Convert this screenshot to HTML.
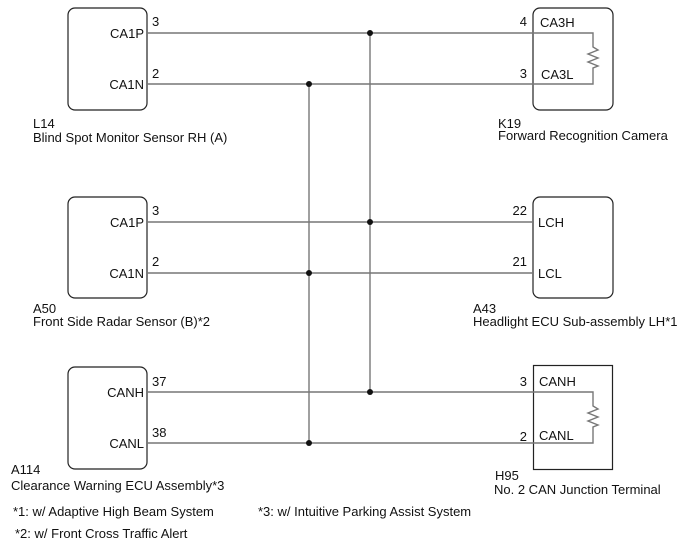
<!DOCTYPE html>
<html><head><meta charset="utf-8"><style>
html,body{margin:0;padding:0;background:#fff;}
svg{display:block;}
text{font-family:"Liberation Sans",Arial,sans-serif;font-size:13px;fill:#111;}
</style></head><body>
<svg width="688" height="560" viewBox="0 0 688 560" xmlns="http://www.w3.org/2000/svg">
<g fill="none" stroke="#222" stroke-width="1.2">
<rect x="68" y="8" width="79" height="102" rx="7"/>
<rect x="533" y="8" width="80" height="102" rx="7"/>
<rect x="68" y="197" width="79" height="101" rx="7"/>
<rect x="533" y="197" width="80" height="101" rx="7"/>
<rect x="68" y="367" width="79" height="102" rx="7"/>
<rect x="533.5" y="365.5" width="79" height="104"/>
</g>
<g fill="none" stroke="#777" stroke-width="1.4">
<line x1="147" y1="33" x2="533" y2="33"/>
<line x1="147" y1="84" x2="533" y2="84"/>
<line x1="147" y1="222" x2="533" y2="222"/>
<line x1="147" y1="273" x2="533" y2="273"/>
<line x1="147" y1="392" x2="533" y2="392"/>
<line x1="147" y1="443" x2="533" y2="443"/>
<line x1="370" y1="33" x2="370" y2="392"/>
<line x1="309" y1="84" x2="309" y2="443"/>
<polyline points="533,33 593,33 593,47 598,50 588,54 598,58 588,62 598,66 593,68 593,84 533,84"/>
<polyline points="533,392 593,392 593,406 598,409 588,413 598,417 588,421 598,425 593,427 593,443 533,443"/>
</g>
<g fill="#111">
<circle cx="370" cy="33" r="3"/><circle cx="309" cy="84" r="3"/>
<circle cx="370" cy="222" r="3"/><circle cx="309" cy="273" r="3"/>
<circle cx="370" cy="392" r="3"/><circle cx="309" cy="443" r="3"/>
</g>
<text x="152" y="26">3</text><text x="144" y="38" text-anchor="end">CA1P</text>
<text x="152" y="78">2</text><text x="144" y="89" text-anchor="end">CA1N</text>
<text x="33" y="128">L14</text><text x="33" y="142">Blind Spot Monitor Sensor RH (A)</text>
<text x="527" y="26" text-anchor="end">4</text><text x="540" y="27">CA3H</text>
<text x="527" y="78" text-anchor="end">3</text><text x="541" y="79">CA3L</text>
<text x="498" y="128">K19</text><text x="498" y="140">Forward Recognition Camera</text>
<text x="152" y="215">3</text><text x="144" y="227" text-anchor="end">CA1P</text>
<text x="152" y="266">2</text><text x="144" y="278" text-anchor="end">CA1N</text>
<text x="33" y="313">A50</text><text x="33" y="326">Front Side Radar Sensor (B)*2</text>
<text x="527" y="215" text-anchor="end">22</text><text x="538" y="227">LCH</text>
<text x="527" y="266" text-anchor="end">21</text><text x="538" y="278">LCL</text>
<text x="473" y="313">A43</text><text x="473" y="326">Headlight ECU Sub-assembly LH*1</text>
<text x="152" y="386">37</text><text x="144" y="397" text-anchor="end">CANH</text>
<text x="152" y="437">38</text><text x="144" y="448" text-anchor="end">CANL</text>
<text x="11" y="474">A114</text><text x="11" y="490">Clearance Warning ECU Assembly*3</text>
<text x="527" y="386" text-anchor="end">3</text><text x="539" y="386">CANH</text>
<text x="527" y="441" text-anchor="end">2</text><text x="539" y="440">CANL</text>
<text x="495" y="480">H95</text><text x="494" y="494">No. 2 CAN Junction Terminal</text>
<text x="13" y="516">*1: w/ Adaptive High Beam System</text>
<text x="258" y="516">*3: w/ Intuitive Parking Assist System</text>
<text x="15" y="538">*2: w/ Front Cross Traffic Alert</text>
</svg>
</body></html>
